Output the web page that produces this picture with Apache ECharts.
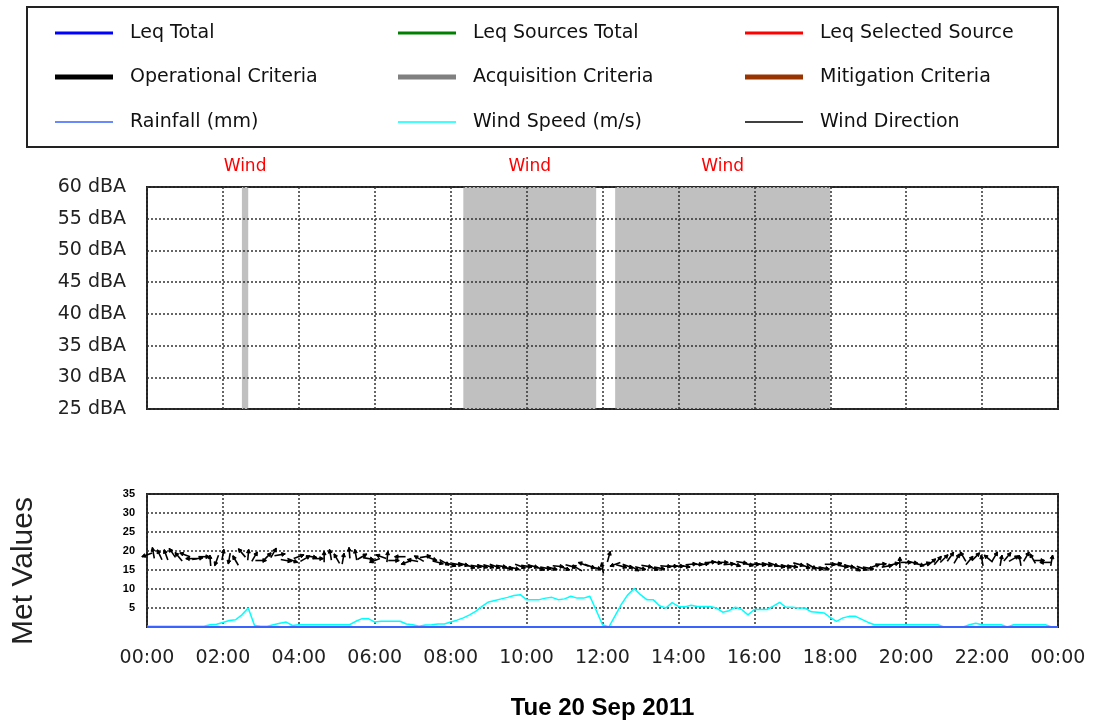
<!DOCTYPE html>
<html><head><meta charset="utf-8">
<script src="https://cdn.jsdelivr.net/npm/echarts@6/dist/echarts.min.js"></script>
<style>html,body{margin:0;padding:0;background:#fff}#c{width:1099px;height:727px}</style>
</head><body><div id="c"></div>
<script>
// ---- data ----
const xTickLabels = ['00:00','02:00','04:00','06:00','08:00','10:00','12:00','14:00','16:00','18:00','20:00','22:00','00:00'];
const dateLabel = 'Tue 20 Sep 2011';
const levelUnit = 'dBA';
// wind-affected periods [start minute, end minute]
const windBands = [[150,160],[500,710],[740,1080]];
const windBandLabel = 'Wind';
// wind speed (m/s), every 10 minutes from 00:00 to 24:00
const windSpeed = [
 0.2,0.2,0.2,0.2,0.2,0.2,
 0.2,0.2,0.2,0.2,0.6,0.7,
 1.2,1.7,1.9,3.2,5.0,0.4,
 0.2,0.2,0.6,1.0,1.3,0.4,
 0.6,0.6,0.6,0.6,0.6,0.6,
 0.6,0.6,0.6,1.5,2.2,2.2,
 1.3,1.5,1.5,1.5,1.5,0.8,
 0.6,0.2,0.5,0.6,0.8,0.8,
 1.3,1.8,2.4,3.2,4.2,5.5,
 6.6,7.0,7.4,7.8,8.3,8.5,
 7.2,7.2,7.2,7.6,7.8,7.2,
 7.4,8.1,7.6,7.6,8.1,4.4,
 0.6,0.0,3.0,6.0,8.5,10.1,
 8.5,7.2,7.2,5.6,5.0,6.4,
 5.4,5.3,5.7,5.4,5.4,5.4,
 5.0,3.9,4.3,5.2,4.6,3.2,
 4.6,4.6,4.6,5.5,6.5,5.2,
 5.2,5.0,5.0,4.0,3.9,3.7,
 2.5,1.5,2.4,2.8,2.8,2.0,
 1.2,0.6,0.6,0.6,0.6,0.6,
 0.6,0.6,0.6,0.6,0.6,0.6,
 0.0,0.0,0.0,0.0,0.6,1.0,
 0.6,0.6,0.6,0.6,0.0,0.6,
 0.6,0.6,0.6,0.6,0.6,0.0,
 0.0
];
// rainfall (mm), hourly 00:00..24:00
const rainfall = [0,0,0,0,0,0,0,0,0,0,0,0,0,0,0,0,0,0,0,0,0,0,0,0,0];
// wind direction arrows: plotted position and arrow angle (deg, 0 = east, 90 = up), every 10 minutes
const windDirPos = [
 19.0,19.5,19.0,19.0,19.5,18.5,
 19.0,18.0,18.0,18.5,17.5,17.5,
 19.0,18.0,17.5,19.5,19.0,18.5,
 17.5,18.5,19.5,19.0,17.5,17.5,
 18.5,18.0,18.5,18.0,18.5,19.0,
 18.0,18.0,19.5,19.0,18.5,18.0,
 17.5,18.5,18.5,17.5,18.5,17.0,
 17.5,18.0,18.5,18.0,17.0,17.0,
 16.5,16.5,16.5,16.0,16.0,16.0,
 16.0,16.0,16.0,15.5,15.5,16.0,
 16.0,16.0,15.5,15.5,15.5,16.0,
 15.5,16.0,15.5,16.5,16.0,15.5,
 15.5,18.5,16.5,16.0,16.0,15.5,
 15.5,16.0,15.5,15.5,16.0,16.0,
 16.0,16.0,16.5,16.5,16.5,17.0,
 17.0,17.0,16.5,16.5,17.0,16.5,
 16.5,16.5,16.5,16.5,16.0,16.0,
 16.0,16.5,16.0,16.0,15.5,15.5,
 16.5,16.5,16.0,16.0,15.5,15.5,
 15.5,16.0,16.5,16.0,16.5,17.0,
 17.0,17.0,16.5,16.5,17.0,17.5,
 18.0,18.5,18.0,18.5,17.5,18.5,
 17.5,18.0,18.5,17.5,18.5,18.0,
 17.5,18.5,18.0,17.5,17.0,17.5
];
const windDirAngle = [
 200,100,115,110,125,130,
 160,180,10,0,95,250,
 80,260,120,130,85,60,
 0,45,60,10,350,340,
 20,30,350,0,90,100,
 120,80,95,100,30,350,
 200,160,85,0,180,200,
 170,150,10,340,345,330,
 340,350,345,340,350,345,
 345,340,350,355,345,340,
 350,345,340,350,345,355,
 340,345,150,160,340,350,
 100,75,200,345,340,330,
 345,350,340,350,355,0,
 0,350,5,0,10,5,
 350,0,5,340,350,345,
 0,350,345,340,350,345,
 350,345,340,330,345,350,
 0,10,350,345,330,340,
 350,20,5,10,15,90,
 0,350,345,20,40,50,
 45,55,60,120,50,45,
 100,140,60,80,50,30,
 100,60,120,0,180,80
];
// legend entries: [name, colour, thickness]
const legendItems = [
 ['Leq Total','#0000ff',3], ['Leq Sources Total','#008000',3], ['Leq Selected Source','#ff0000',3],
 ['Operational Criteria','#000000',5], ['Acquisition Criteria','#808080',5], ['Mitigation Criteria','#993300',5],
 ['Rainfall (mm)','#3a62ff',1.6], ['Wind Speed (m/s)','#00ffff',1.6], ['Wind Direction','#000000',1.4]
];

// ---- build ----
const FONT = 'DejaVu Sans';
const speedData = windSpeed.map((v,i)=>[i*10,v]);
const rainData = rainfall.map((v,i)=>[i*60,v]);
const dirData = windDirPos.map((v,i)=>[i*10,v,windDirAngle[i]]);

const colX = [55, 398, 745];
const rowY = [33, 77, 122];
const legends = legendItems.map((it,k)=>({
  data:[it[0]], left: colX[k%3], top: rowY[Math.floor(k/3)] - 11, padding:0,
  icon:'rect', itemWidth:58, itemHeight:it[2], selectedMode:false,
  itemStyle:{color:it[1], borderWidth:0},
  textStyle:{fontFamily:FONT, fontSize:19, color:'#111', lineHeight:22, padding:[0,0,0,12]}
}));

const dotted = {type:[2,2], color:'#333', width:1.5};
const xFmt = v => xTickLabels[Math.round(v/120)] || '';

const dummySeries = legendItems.slice(0,6).map(it=>({
  name: it[0], type:'line', xAxisIndex:0, yAxisIndex:0, data:[], color: it[1], showSymbol:false
}));

const option = {
  animation:false,
  backgroundColor:'#fff',
  legend: legends,
  graphic:[
    {type:'rect', shape:{x:27,y:7,width:1031,height:140}, style:{fill:'none', stroke:'#222', lineWidth:2}},
    {type:'text', x:24, y:571, rotation:Math.PI/2,
     style:{text:'Met Values', fontFamily:'Liberation Sans', fontSize:30, fill:'#222', align:'center', verticalAlign:'middle'}}
  ],
  grid:[
    {left:147, right:41, top:187, height:222, show:true, borderColor:'#222', borderWidth:2, backgroundColor:'transparent'},
    {left:147, right:41, top:494, height:133, show:true, borderColor:'#222', borderWidth:2, backgroundColor:'transparent'}
  ],
  xAxis:[
    {gridIndex:0, type:'value', min:0, max:1440, interval:120, z:3,
     axisLine:{show:false}, axisTick:{show:false}, axisLabel:{show:false},
     splitLine:{show:true, lineStyle:dotted}},
    {gridIndex:1, type:'value', min:0, max:1440, interval:120,
     axisLine:{show:false}, axisTick:{show:false},
     axisLabel:{formatter:xFmt, fontFamily:FONT, fontSize:19, color:'#222', margin:22},
     splitLine:{show:true, lineStyle:dotted},
     name: dateLabel, nameLocation:'middle', nameGap:69,
     nameTextStyle:{fontFamily:'Liberation Sans', fontWeight:'bold', fontSize:24, color:'#000'}}
  ],
  yAxis:[
    {gridIndex:0, type:'value', min:25, max:60, interval:5, z:3,
     axisLine:{show:false}, axisTick:{show:false},
     axisLabel:{formatter:'{value} '+levelUnit, fontFamily:FONT, fontSize:19, color:'#222', margin:21},
     splitLine:{show:true, lineStyle:dotted}},
    {gridIndex:1, type:'value', min:0, max:35, interval:5,
     axisLine:{show:false}, axisTick:{show:false},
     axisLabel:{formatter:v=> v===0 ? '' : String(v), fontFamily:'Liberation Sans', fontWeight:'bold', fontSize:11, color:'#000', margin:12},
     splitLine:{show:true, lineStyle:dotted}}
  ],
  series:[
    ...dummySeries,
    {name:'bands', type:'line', xAxisIndex:0, yAxisIndex:0, data:[], silent:true,
     markArea:{silent:true, itemStyle:{color:'#c0c0c0', opacity:1},
       label:{show:true, position:'top', distance:12, color:'#ff0000', fontFamily:FONT, fontSize:17},
       data: windBands.map(b=>[{xAxis:b[0], name:windBandLabel},{xAxis:b[1]}])}},
    {name:'Rainfall (mm)', type:'line', xAxisIndex:1, yAxisIndex:1, data:rainData, showSymbol:false,
     color:'#3a62ff', lineStyle:{width:2, color:'#3a62ff'}, z:4},
    {name:'Wind Speed (m/s)', type:'line', xAxisIndex:1, yAxisIndex:1, data:speedData, showSymbol:false,
     color:'#00ffff', lineStyle:{width:1.5, color:'#00ffff'}, z:3},
    {name:'Wind Direction', type:'custom', xAxisIndex:1, yAxisIndex:1, data:dirData, color:'#000',
     encode:{x:0, y:1}, z:5,
     renderItem:function(params, api){
       const p = api.coord([api.value(0), api.value(1)]);
       const a = api.value(2) * Math.PI / 180;
       const L = 11, h = 4;
       const dx = Math.cos(a)*L/2, dy = -Math.sin(a)*L/2;
       const sx = p[0]-dx, sy = p[1]-dy, ex = p[0]+dx, ey = p[1]+dy;
       const h1 = [ex - Math.cos(a-0.5)*h, ey + Math.sin(a-0.5)*h];
       const h2 = [ex - Math.cos(a+0.5)*h, ey + Math.sin(a+0.5)*h];
       return {type:'group', children:[
         {type:'line', shape:{x1:sx,y1:sy,x2:ex,y2:ey}, style:{stroke:'#000', lineWidth:1.6}},
         {type:'polygon', shape:{points:[[ex,ey],h1,h2]}, style:{fill:'#000', stroke:'#000', lineWidth:1}}
       ]};
     }}
  ]
};
const chart = echarts.init(document.getElementById('c'));
chart.setOption(option);
</script>
</body></html>
